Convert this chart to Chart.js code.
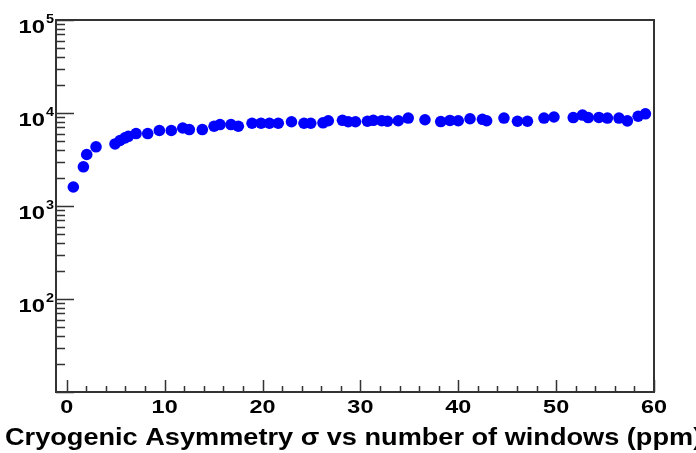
<!DOCTYPE html>
<html>
<head>
<meta charset="utf-8">
<script src="https://cdn.jsdelivr.net/npm/chart.js@4.4.1/dist/chart.umd.min.js"></script>
<style>
  html, body { margin: 0; padding: 0; background: #ffffff; }
  #wrap { width: 696px; height: 453px; }
</style>
</head>
<body>
<div id="wrap"><canvas id="c" width="696" height="453"></canvas></div>
<script>
// Number of windows (x) and cryogenic asymmetry width in ppm (y)
const windows = [
  0.67, 1.70, 2.04, 2.99, 4.93, 5.44, 5.95, 6.29, 7.08, 8.27,
  9.46, 10.68, 11.85, 12.52, 13.85, 15.05, 15.66, 16.78, 17.53, 18.93,
  19.85, 20.71, 21.61, 22.96, 24.24, 24.93, 26.18, 26.72, 28.17, 28.76,
  29.50, 30.72, 31.32, 32.18, 32.77, 33.87, 34.89, 36.60, 38.21, 39.15,
  40.00, 41.20, 42.47, 42.90, 44.67, 46.05, 47.07, 48.76, 49.78, 51.75,
  52.69, 53.28, 54.37, 55.24, 56.42, 57.28, 58.38, 59.12
];
const sigmaPpm = [
  1600, 2640, 3580, 4330, 4650, 5060, 5400, 5620, 6010, 6010,
  6480, 6480, 6900, 6640, 6640, 7200, 7510, 7510, 7200, 7760,
  7760, 7760, 7760, 8050, 7760, 7760, 7850, 8250, 8350, 8050,
  8050, 8150, 8350, 8250, 8150, 8250, 8830, 8460, 8090, 8320,
  8250, 8670, 8560, 8250, 8830, 8150, 8150, 8830, 9060, 8930,
  9500, 8930, 8960, 8830, 8830, 8230, 9230, 9800
];

// Axis tick values
const xMajorTicks = [0, 10, 20, 30, 40, 50, 60];
const xMinorTicks = [2, 4, 6, 8, 12, 14, 16, 18, 22, 24, 26, 28, 32, 34, 36, 38,
                     42, 44, 46, 48, 52, 54, 56, 58];
const yDecades = [2, 3, 4, 5];              // labelled powers of ten
const yMajorTicks = [10, 100, 1000, 10000, 100000];
const yMinorMultipliers = [2, 3, 4, 5, 6, 7, 8, 9];

const axisTitle = 'Cryogenic Asymmetry \u03c3 vs number of windows (ppm)';

const points = windows.map((w, i) => ({ x: w, y: sigmaPpm[i] }));

const FONT = '"Liberation Sans", Arial, Helvetica, sans-serif';

// Text drawn with a slight horizontal stretch, like the wide bold Helvetica labels
function wideText(ctx, text, x, y, font, align, sx) {
  ctx.save();
  ctx.font = font;
  ctx.textAlign = align;
  ctx.textBaseline = 'alphabetic';
  ctx.translate(x, y);
  ctx.scale(sx, 1);
  ctx.fillText(text, 0, 0);
  ctx.restore();
}

// Frame, inward ticks and labels in the style of a physics analysis plot
const framePlugin = {
  id: 'frame',
  afterDraw(chart) {
    const ctx = chart.ctx;
    const a = chart.chartArea;
    const xs = chart.scales.x;
    const ys = chart.scales.y;
    ctx.save();
    ctx.strokeStyle = '#333333';
    ctx.lineWidth = 2;
    ctx.strokeRect(a.left, a.top, a.right - a.left, a.bottom - a.top);

    ctx.lineWidth = 1.5;
    ctx.beginPath();
    // x ticks (inward, from bottom)
    xMajorTicks.forEach(v => {
      const px = Math.round(xs.getPixelForValue(v)) + 0.5;
      ctx.moveTo(px, a.bottom); ctx.lineTo(px, a.bottom - 12);
    });
    xMinorTicks.forEach(v => {
      const px = Math.round(xs.getPixelForValue(v)) + 0.5;
      ctx.moveTo(px, a.bottom); ctx.lineTo(px, a.bottom - 6);
    });
    // y ticks (inward, from left)
    yMajorTicks.forEach(v => {
      const py = Math.round(ys.getPixelForValue(v)) + 0.5;
      ctx.moveTo(a.left, py); ctx.lineTo(a.left + 18, py);
    });
    yMajorTicks.slice(0, -1).forEach(d => {
      yMinorMultipliers.forEach(m => {
        const py = Math.round(ys.getPixelForValue(d * m)) + 0.5;
        ctx.moveTo(a.left, py); ctx.lineTo(a.left + 9, py);
      });
    });
    ctx.stroke();

    ctx.fillStyle = '#000000';
    // x tick labels
    xMajorTicks.forEach(v => {
      wideText(ctx, String(v), xs.getPixelForValue(v), a.bottom + 21,
               'bold 18px ' + FONT, 'center', 1.3);
    });

    // y tick labels: 10 with a raised exponent
    yDecades.forEach(p => {
      const py = ys.getPixelForValue(Math.pow(10, p));
      wideText(ctx, '10', 45, py + 13, 'bold 19px ' + FONT, 'right', 1.25);
      wideText(ctx, String(p), 46, py + 3, 'bold 12px ' + FONT, 'left', 1.2);
    });

    // axis title
    wideText(ctx, axisTitle, 5, 445, 'bold 23px ' + FONT, 'left', 1.18);
    ctx.restore();
  }
};

new Chart(document.getElementById('c'), {
  type: 'scatter',
  data: {
    datasets: [{
      data: points,
      backgroundColor: '#0000ff',
      borderColor: '#0000ff',
      borderWidth: 0,
      pointRadius: 5.8,
      pointHoverRadius: 5.8,
      pointStyle: 'circle'
    }]
  },
  options: {
    responsive: false,
    animation: false,
    events: [],
    layout: { padding: { left: 56, right: 42, top: 20, bottom: 61 } },
    plugins: { legend: { display: false }, tooltip: { enabled: false } },
    scales: {
      x: { type: 'linear', display: false, min: -1.1, max: 60 },
      y: { type: 'logarithmic', display: false, min: 10, max: 100000 }
    }
  },
  plugins: [framePlugin]
});
</script>
</body>
</html>
